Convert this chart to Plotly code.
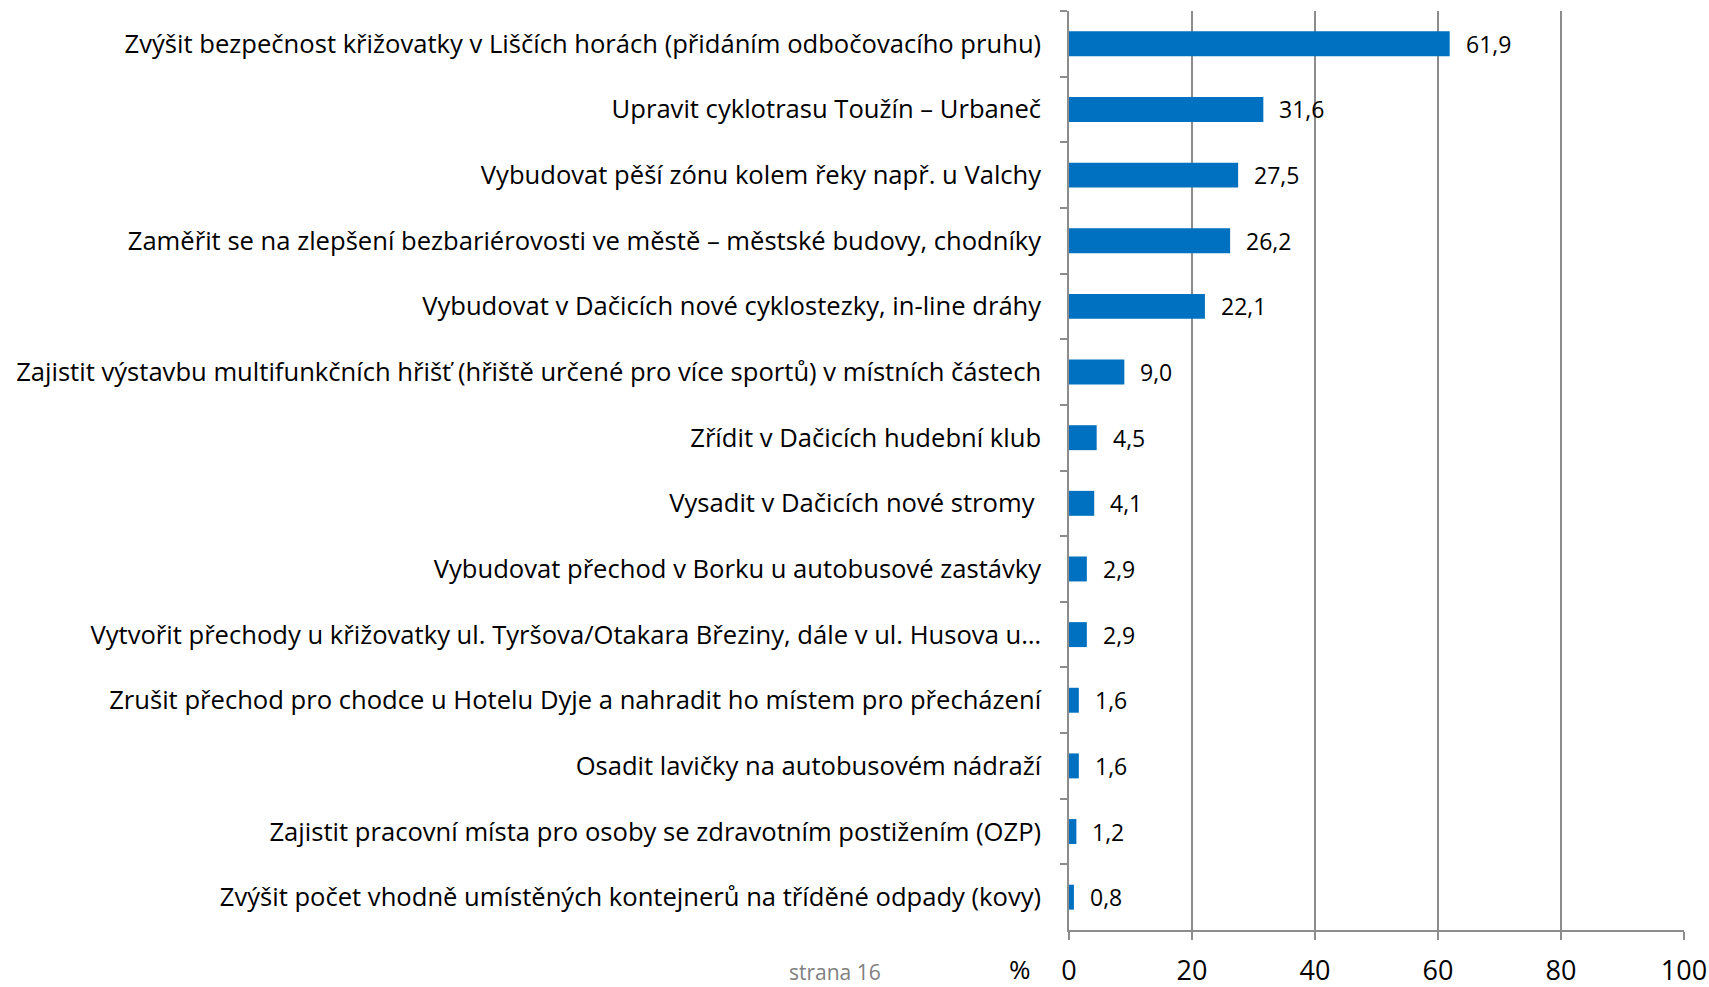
import plotly.graph_objects as go

categories = [
    "Zvýšit bezpečnost křižovatky v Liščích horách (přidáním odbočovacího pruhu)",
    "Upravit cyklotrasu Toužín – Urbaneč",
    "Vybudovat pěší zónu kolem řeky např. u Valchy",
    "Zaměřit se na zlepšení bezbariérovosti ve městě – městské budovy, chodníky",
    "Vybudovat v Dačicích nové cyklostezky, in-line dráhy",
    "Zajistit výstavbu multifunkčních hřišť (hřiště určené pro více sportů) v místních částech",
    "Zřídit v Dačicích hudební klub",
    "Vysadit v Dačicích nové stromy\u00a0",
    "Vybudovat přechod v Borku u autobusové zastávky",
    "Vytvořit přechody u křižovatky ul. Tyršova/Otakara Březiny, dále v ul. Husova u…",
    "Zrušit přechod pro chodce u Hotelu Dyje a nahradit ho místem pro přecházení",
    "Osadit lavičky na autobusovém nádraží",
    "Zajistit pracovní místa pro osoby se zdravotním postižením (OZP)",
    "Zvýšit počet vhodně umístěných kontejnerů na tříděné odpady (kovy)",
]
values = [61.9, 31.6, 27.5, 26.2, 22.1, 9.0, 4.5, 4.1, 2.9, 2.9, 1.6, 1.6, 1.2, 0.8]
value_labels = ["61,9", "31,6", "27,5", "26,2", "22,1", "9,0", "4,5", "4,1", "2,9", "2,9", "1,6", "1,6", "1,2", "0,8"]
x_ticks = [0, 20, 40, 60, 80, 100]

FONT = "Open Sans"
GRID = "#8c8c8c"

fig = go.Figure()
fig.add_trace(go.Bar(
    y=categories, x=values, orientation="h",
    marker=dict(color="#0070C0", line=dict(width=0)),
    hoverinfo="skip",
))

for c, v, t in zip(categories, values, value_labels):
    fig.add_annotation(x=v, y=c, xref="x", yref="y", text=t, showarrow=False,
                       xanchor="left", xshift=14, font=dict(family=FONT, size=23, color="#000"))

fig.add_annotation(xref="paper", yref="paper", x=-0.08, y=-0.042, text="%", showarrow=False,
                   xanchor="center", yanchor="middle", font=dict(family=FONT, size=26, color="#000"))
fig.add_annotation(xref="paper", yref="paper", x=-0.38, y=-0.046, text="strana 16", showarrow=False,
                   xanchor="center", yanchor="middle", font=dict(family=FONT, size=21, color="#808080"))

fig.update_layout(
    width=1709, height=987,
    margin=dict(l=1069, r=25, t=11, b=57),
    paper_bgcolor="white", plot_bgcolor="white",
    bargap=0.62,
    showlegend=False,
    font=dict(family=FONT, color="#000"),
)
fig.update_xaxes(
    range=[0, 100], tickvals=x_ticks, ticktext=[str(v) for v in x_ticks],
    showgrid=True, gridcolor=GRID, gridwidth=1.5,
    showline=True, linecolor=GRID, linewidth=1.5,
    ticks="outside", ticklen=8, tickcolor=GRID, tickwidth=1.5,
    tickfont=dict(family=FONT, size=27, color="#000"),
    zeroline=False, ticklabelstandoff=8, automargin=False,
)
fig.update_yaxes(
    autorange="reversed", type="category",
    showline=True, linecolor=GRID, linewidth=1.5,
    ticks="outside", ticklen=7, tickcolor=GRID, tickwidth=1.5, tickson="boundaries",
    tickfont=dict(family=FONT, size=25.6, color="#000"),
    showgrid=False, ticklabelstandoff=21, automargin=False,
)

fig.write_html("out.html", config={"displayModeBar": False},
               post_script="document.body.style.margin='0';document.body.style.overflow='hidden';")
